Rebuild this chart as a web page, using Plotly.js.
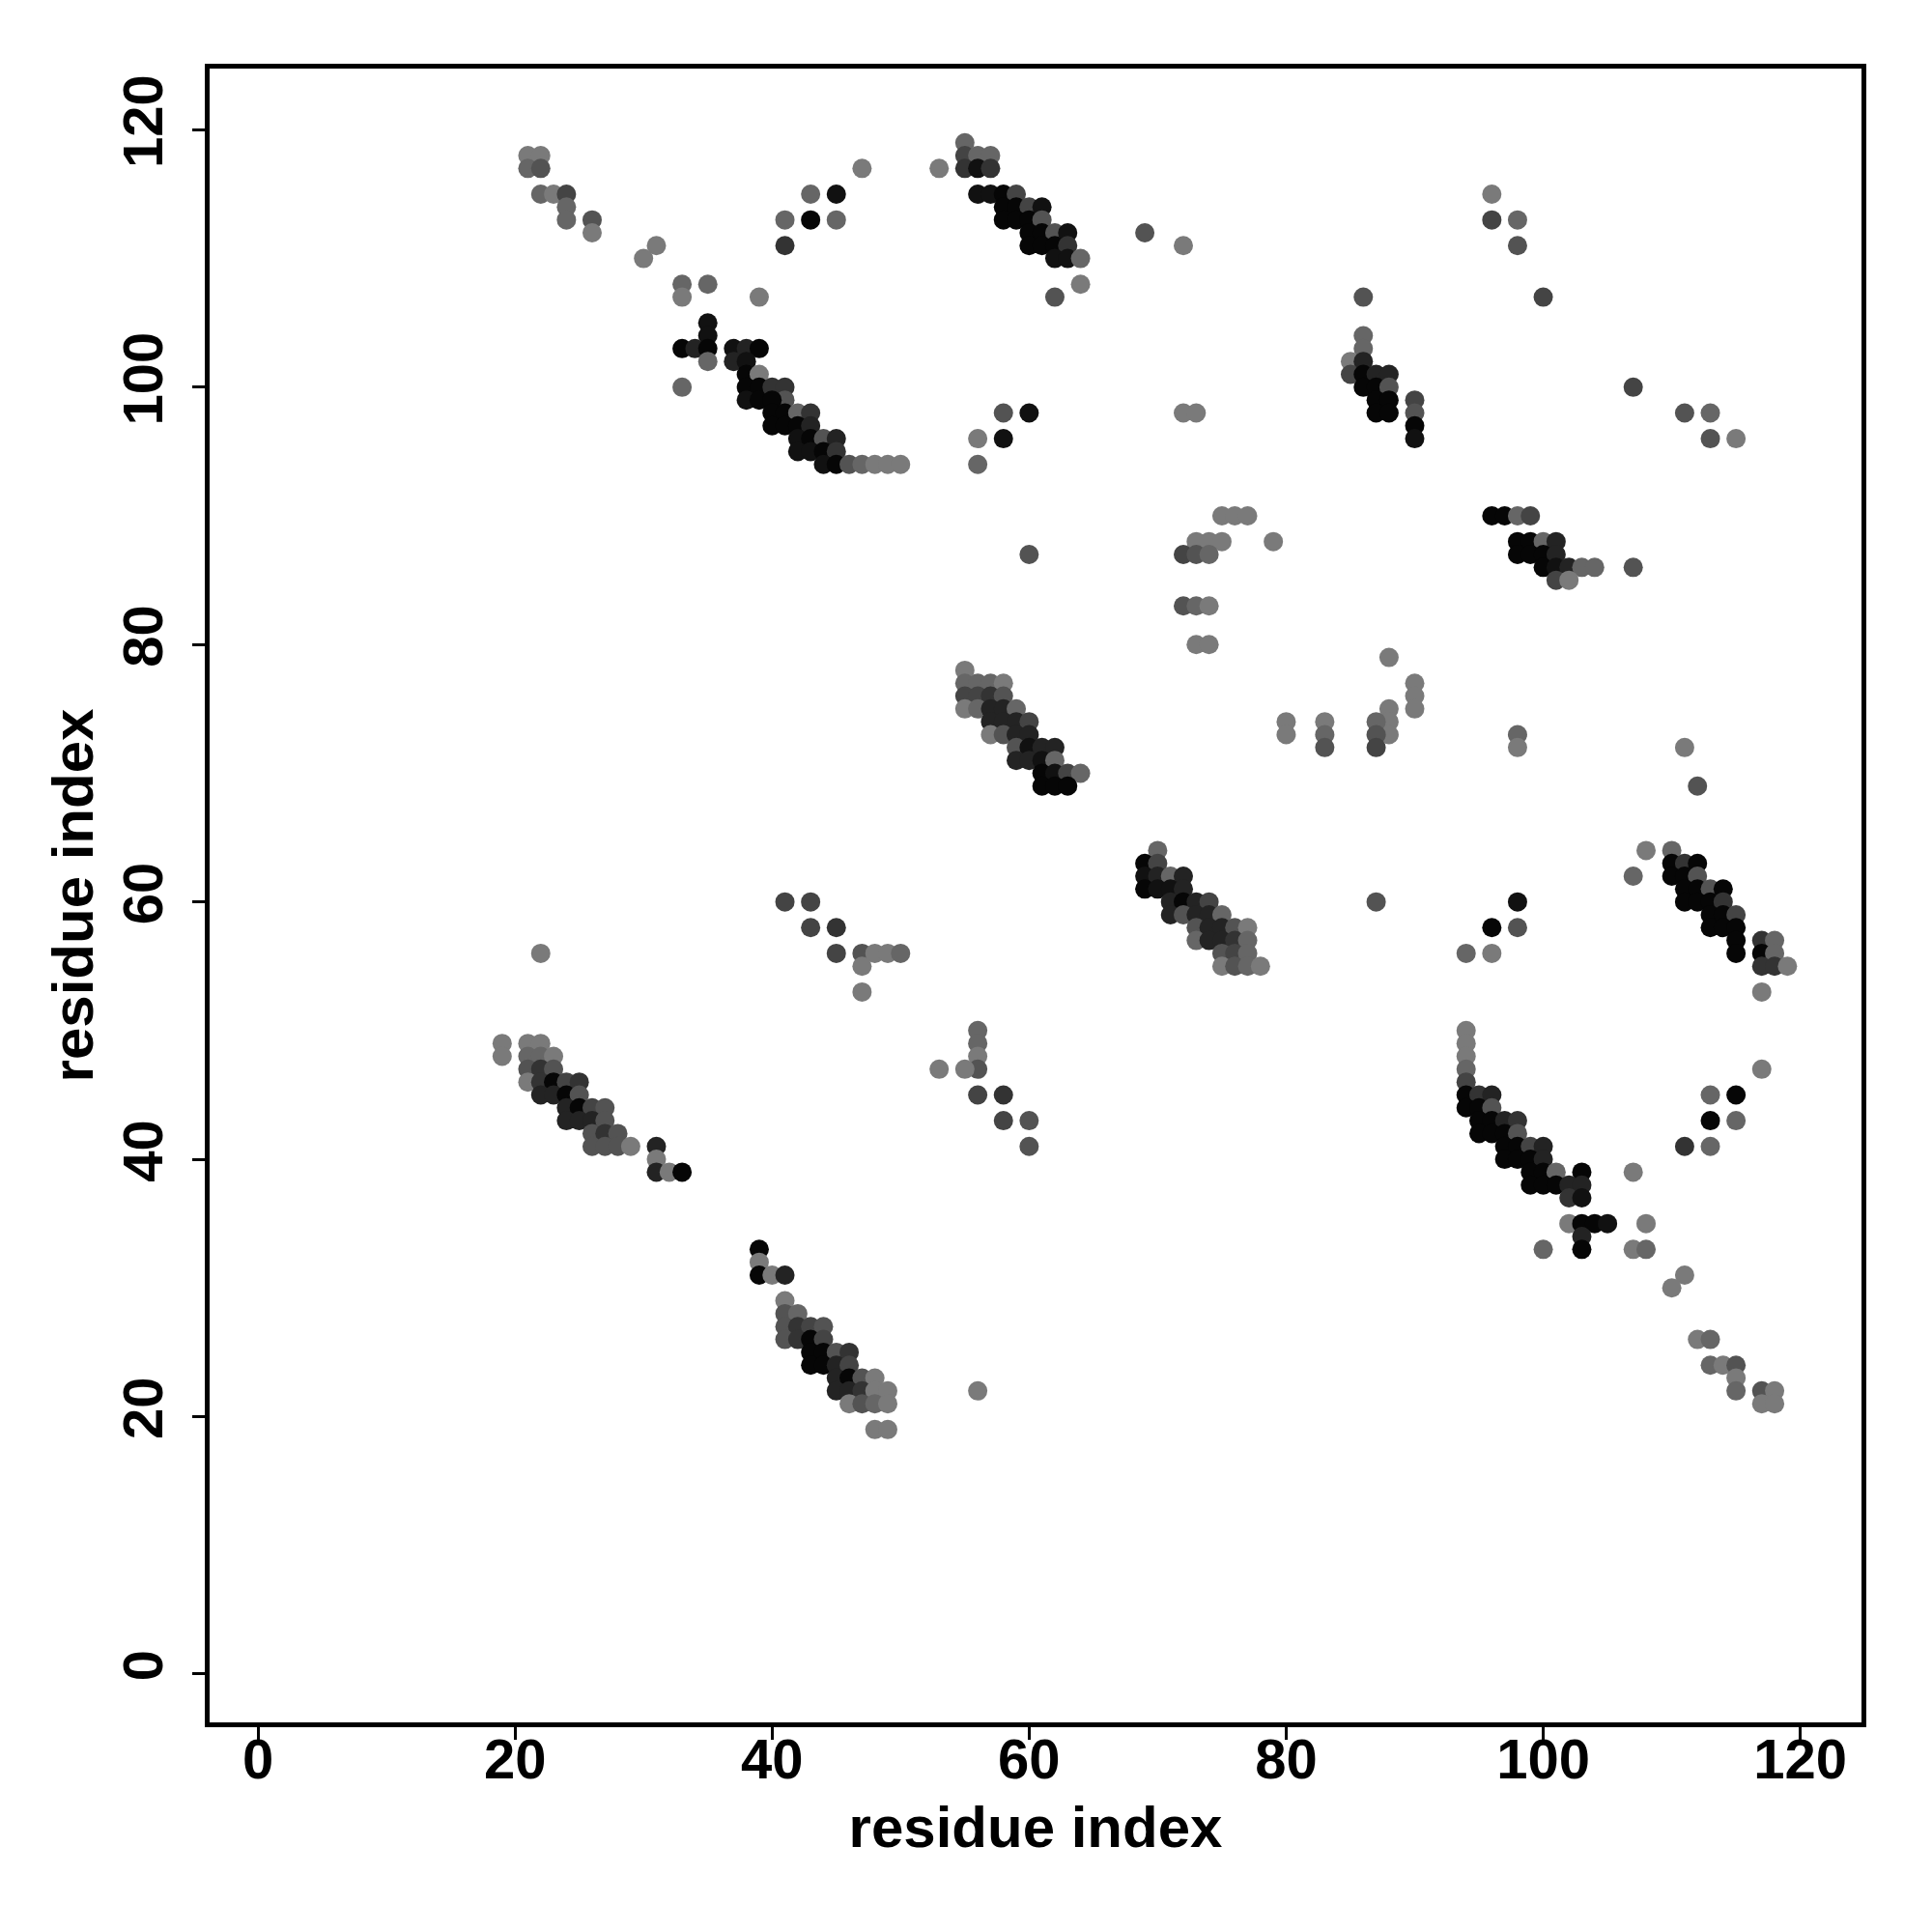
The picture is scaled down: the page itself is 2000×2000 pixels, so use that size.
<!DOCTYPE html>
<html>
<head>
<meta charset="utf-8">
<script src="https://cdn.plot.ly/plotly-3.0.1.min.js"></script>
<style>html,body{margin:0;padding:0;background:#fff;}#plot{width:2000px;height:2000px;}</style>
</head>
<body>
<div id="plot"></div>
<script>
// shade levels (contact strength, 0 = light gray, 1 = black)
const L = 0.05, M = 0.2, MD = 0.35, D = 0.47, DD = 0.6, V = 0.73, B = 0.87, K = 0.95;

// contacts: [residue i, residue j, strength]
const contacts = [
// upper-left band
[21,118,L],[22,118,L],[21,117,M],[22,117,MD],
[22,115,M],[23,115,L],[24,115,D],[24,114,M],[24,113,M],[26,113,MD],[26,112,L],
[31,111,L],[30,110,L],[33,108,M],[33,107,L],[35,108,M],[39,107,L],
[35,105,B],[35,104,B],[33,103,K],[34,103,V],[35,103,K],[35,102,M],
[37,103,B],[38,103,V],[39,103,K],[37,102,V],[38,102,B],[33,100,M],
[38,101,K],[39,101,L],[38,100,K],[39,100,K],[38,99,B],[39,99,K],
[40,100,DD],[41,100,DD],[41,99,MD],[40,99,K],[40,98,K],[41,98,K],[42,98,M],[43,98,DD],
[40,97,K],[41,97,K],[42,97,K],[43,97,V],[42,96,B],[43,96,K],[44,96,MD],[45,96,V],
[42,95,B],[43,95,B],[44,95,K],[45,95,DD],[44,94,B],[45,94,K],[46,94,MD],[47,94,M],[48,94,L],[49,94,L],[50,94,L],
[47,117,L],[53,117,L],[43,115,M],[45,115,B],[41,113,M],[43,113,K],[45,113,M],[41,111,DD],
// upper-middle band
[55,119,M],[55,118,D],[56,118,M],[57,118,M],[55,117,DD],[56,117,B],[57,117,DD],
[56,115,B],[57,115,B],[58,115,K],[59,115,D],
[58,114,K],[59,114,K],[60,114,D],[61,114,B],
[58,113,K],[59,113,K],[60,113,K],[61,113,MD],
[60,112,K],[61,112,K],[62,112,MD],[63,112,B],
[60,111,K],[61,111,K],[62,111,K],[63,111,DD],
[62,110,B],[63,110,B],[64,110,M],[64,108,L],[62,107,MD],
[58,98,MD],[60,98,B],[56,96,L],[58,96,B],[56,94,M],
// scattered middle-upper
[69,112,MD],[72,111,L],[72,98,L],[73,98,L],
[75,90,L],[76,90,L],[77,90,L],[73,88,L],[74,88,L],[75,88,L],[79,88,L],
[72,87,D],[73,87,MD],[74,87,M],[72,83,MD],[73,83,M],[74,83,L],[73,80,L],[74,80,L],
[60,87,MD],
[86,107,MD],[86,104,M],[86,103,M],[85,102,L],[86,102,V],[85,101,D],[86,101,K],[87,101,V],[88,101,V],
[86,100,K],[87,100,K],[88,100,MD],[87,99,K],[88,99,K],[87,98,K],[88,98,K],
[90,99,D],[90,98,MD],[90,97,K],[90,96,B],
[96,115,L],[96,113,D],[98,113,M],[98,111,MD],[100,107,D],[107,100,D],
[111,98,MD],[113,98,M],[113,96,MD],[115,96,L],
[96,90,K],[97,90,K],[98,90,M],[99,90,D],
[98,88,K],[99,88,K],[100,88,M],[101,88,V],
[98,87,K],[99,87,K],[100,87,K],[101,87,V],
[100,86,K],[101,86,B],[102,86,V],[103,86,M],[104,86,M],
[101,85,D],[102,85,L],[107,86,MD],
// middle
[88,79,L],[90,77,L],[90,76,L],[90,75,L],[88,75,L],[88,74,L],[88,73,L],
[87,74,M],[87,73,MD],[87,72,D],[83,74,L],[83,73,M],[83,72,MD],[80,74,L],[80,73,L],
[55,78,L],[55,77,M],[56,77,M],[57,77,M],[58,77,L],
[55,76,D],[56,76,D],[57,76,DD],[58,76,MD],
[55,75,L],[56,75,M],[57,75,V],[58,75,V],[59,75,M],
[57,74,V],[58,74,V],[59,74,V],[60,74,D],
[57,73,L],[58,73,MD],[59,73,V],[60,73,V],
[59,72,MD],[60,72,B],[61,72,V],[62,72,V],
[59,71,V],[60,71,V],[61,71,B],[62,71,M],
[61,70,K],[62,70,B],[63,70,D],[64,70,M],
[61,69,K],[62,69,K],[63,69,K],
[70,64,M],[69,63,K],[70,63,D],[69,62,B],[70,62,V],[71,62,M],[72,62,V],
[69,61,K],[70,61,B],[71,61,B],[72,61,V],
[71,60,V],[72,60,K],[73,60,V],[74,60,D],
[71,59,V],[72,59,MD],[73,59,V],[74,59,V],[75,59,M],
[73,58,MD],[74,58,V],[75,58,V],[76,58,MD],[77,58,L],
[73,57,M],[74,57,V],[75,57,V],[76,57,DD],[77,57,M],
[75,56,MD],[76,56,D],[77,56,M],
[75,55,L],[76,55,MD],[77,55,M],[78,55,L],
[87,60,MD],
// right-middle
[98,73,M],[98,72,L],[111,72,L],[112,69,MD],[108,64,L],[110,64,M],[107,62,M],
[110,63,K],[111,63,DD],[112,63,K],
[110,62,K],[111,62,K],[112,62,MD],
[111,61,K],[112,61,K],[113,61,MD],[114,61,K],
[111,60,K],[112,60,K],[113,60,K],[114,60,DD],
[113,59,K],[114,59,K],[115,59,D],
[113,58,K],[114,58,K],[115,58,K],
[115,57,K],[115,56,K],
[117,57,DD],[118,57,M],[117,56,K],[118,56,M],[117,55,DD],[118,55,DD],[119,55,L],
[117,53,L],[117,47,L],
[98,60,B],[96,58,K],[98,58,MD],[94,56,M],[96,56,L],
// lower-left
[22,56,L],
[41,60,D],[43,60,D],[43,58,D],[45,58,DD],[45,56,D],[47,56,MD],[48,56,L],[49,56,L],[50,56,M],[47,55,L],[47,53,L],
[53,47,L],
[19,49,L],[19,48,L],[21,49,L],[22,49,L],
[21,48,M],[22,48,M],[23,48,L],
[21,47,MD],[22,47,DD],[23,47,MD],
[21,46,L],[22,46,DD],[23,46,K],[24,46,D],[25,46,DD],
[22,45,V],[23,45,V],[24,45,K],[25,45,MD],
[24,44,V],[25,44,K],[26,44,D],[27,44,MD],
[24,43,V],[25,43,V],[26,43,V],[27,43,MD],
[26,42,MD],[27,42,DD],[28,42,MD],
[26,41,MD],[27,41,MD],[28,41,MD],[29,41,L],
[31,41,V],[31,40,L],[31,39,V],[32,39,L],[33,39,K],
[56,50,M],[56,49,M],[56,48,L],[56,47,MD],[55,47,L],
[56,45,D],[58,45,DD],[58,43,D],[60,43,MD],[60,41,MD],
[39,33,K],[39,32,L],[39,31,K],[40,31,L],[41,31,V],
[41,29,L],[41,28,MD],[42,28,M],
[41,27,MD],[42,27,DD],[43,27,D],[44,27,MD],
[41,26,MD],[42,26,DD],[43,26,K],[44,26,D],
[43,25,K],[44,25,K],[45,25,MD],[46,25,DD],
[43,24,K],[44,24,K],[45,24,V],[46,24,D],
[45,23,V],[46,23,K],[47,23,MD],[48,23,L],
[45,22,V],[46,22,V],[47,22,DD],[48,22,L],[49,22,L],
[46,21,L],[47,21,MD],[48,21,M],[49,21,L],
[48,19,L],[49,19,L],[56,22,L],
// lower-right
[94,50,L],[94,49,L],[94,48,L],[94,47,M],[94,46,D],
[94,45,K],[95,45,DD],[96,45,V],
[94,44,K],[95,44,K],[96,44,MD],
[95,43,K],[96,43,K],[97,43,V],[98,43,DD],
[95,42,K],[96,42,K],[97,42,K],[98,42,MD],
[97,41,K],[98,41,K],[99,41,D],[100,41,V],
[97,40,K],[98,40,K],[99,40,K],[100,40,V],
[99,39,K],[100,39,K],[101,39,M],[103,39,K],
[99,38,K],[100,38,K],[101,38,K],[102,38,V],[103,38,V],
[102,37,DD],[103,37,B],
[107,39,L],
[102,35,L],[103,35,K],[104,35,K],[105,35,B],
[103,34,V],[103,33,K],[100,33,M],
[108,35,L],[107,33,L],[108,33,M],
[111,31,L],[110,30,L],
[113,45,M],[115,45,K],[113,43,K],[115,43,M],[111,41,DD],[113,41,M],
[112,26,L],[113,26,M],[113,24,M],[114,24,L],[115,24,MD],[115,23,L],[115,22,M],
[117,22,MD],[118,22,L],[117,21,L],[118,21,L]
];

const residueI = contacts.map(c => c[0]);
const residueJ = contacts.map(c => c[1]);
const strength = contacts.map(c => c[2]);

const tickVals = [0, 20, 40, 60, 80, 100, 120];
const tickText = ["0", "20", "40", "60", "80", "100", "120"];

const fontFam = '"Liberation Sans", Arial, Helvetica, sans-serif';

const trace = {
  type: 'scatter',
  mode: 'markers',
  x: residueI,
  y: residueJ,
  marker: {
    size: 20,
    color: strength,
    colorscale: [[0, '#808080'], [1, '#000000']],
    cmin: 0, cmax: 1,
    showscale: false,
    line: {width: 0}
  },
  hoverinfo: 'x+y'
};

const axisCommon = {
  range: [-3.76, 124.76],
  tickmode: 'array',
  tickvals: tickVals,
  ticktext: tickText,
  ticks: 'outside',
  ticklen: 13,
  tickwidth: 3,
  tickcolor: '#000',
  showline: true,
  linewidth: 5,
  linecolor: '#000',
  mirror: true,
  showgrid: false,
  zeroline: false,
  tickfont: {family: fontFam, size: 58, color: '#000', weight: 'bold'},
  automargin: false
};

const layout = {
  width: 2000,
  height: 2000,
  margin: {l: 217, r: 73, t: 71, b: 217},
  paper_bgcolor: '#fff',
  plot_bgcolor: '#fff',
  showlegend: false,
  xaxis: Object.assign({}, axisCommon, {
    ticklabelstandoff: -30,
    title: {text: 'residue index', font: {family: fontFam, size: 60, color: '#000', weight: 'bold'}, standoff: 20}
  }),
  yaxis: Object.assign({}, axisCommon, {
    tickangle: -90,
    ticklabelstandoff: 8,
    title: {text: 'residue index', font: {family: fontFam, size: 60, color: '#000', weight: 'bold'}, standoff: 0}
  })
};

Plotly.newPlot('plot', [trace], layout, {staticPlot: true, displayModeBar: false});
</script>
</body>
</html>
